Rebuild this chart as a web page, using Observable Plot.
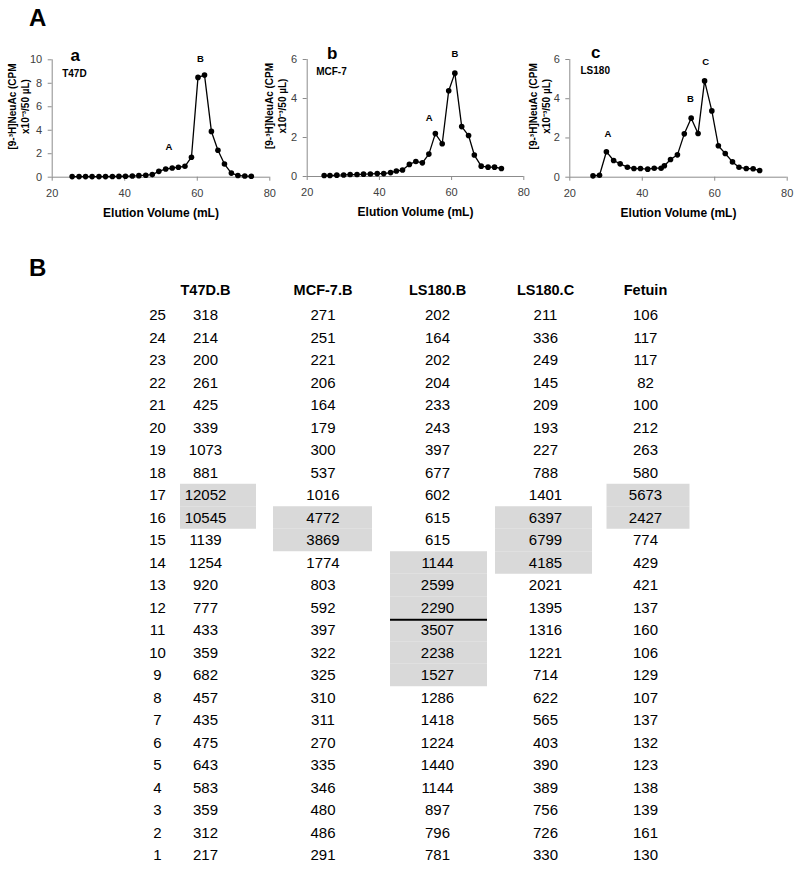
<!DOCTYPE html>
<html>
<head>
<meta charset="utf-8">
<script src="https://cdn.jsdelivr.net/npm/d3@7"></script>
<script src="https://cdn.jsdelivr.net/npm/@observablehq/plot@0.6"></script>
<style>
  body { margin: 0; background: #fff; }
  #root { position: relative; width: 800px; height: 871px; overflow: hidden; font-family: "Liberation Sans", Arial, sans-serif; }
  #root svg { position: absolute; overflow: visible; }
  .big { position: absolute; font-weight: bold; font-size: 24px; line-height: 24px; color: #000; }
</style>
</head>
<body>
<div id="root">
  <div class="big" style="left:29px;top:6px">A</div>
  <div class="big" style="left:29px;top:256px">B</div>
</div>
<script>
// ---------- Panel A data (elution volume in mL, CPM x10^-3 / 50 µL) ----------
const volT47D = [25.5,27.4,29.2,31.0,32.9,34.7,36.6,38.4,40.2,42.1,43.9,45.8,47.6,49.4,51.3,53.1,54.8,56.6,58.4,60.2,62.0,63.9,65.7,67.5,69.4,71.2,73.1,74.9];
const cpmT47D = [0.05,0.05,0.05,0.05,0.05,0.05,0.06,0.07,0.08,0.1,0.13,0.17,0.22,0.5,0.7,0.78,0.85,0.93,1.7,8.5,8.7,3.9,2.3,1.12,0.35,0.15,0.1,0.08];
const volMCF7 = [24.7,26.3,28.2,30.1,31.9,33.8,35.6,37.5,39.4,41.2,43.1,44.7,46.4,48.3,50.1,51.9,53.7,55.5,57.4,59.2,60.9,62.8,64.7,66.3,68.2,70.1,71.9,73.8];
const cpmMCF7 = [0.05,0.05,0.07,0.08,0.1,0.1,0.12,0.13,0.15,0.15,0.2,0.28,0.33,0.62,0.77,0.7,1.15,2.2,1.68,4.4,5.3,2.56,2.1,1.1,0.53,0.48,0.48,0.41];
const volLS180 = [26.4,28.2,30.1,32.1,33.9,35.9,37.7,39.5,41.5,43.3,45.2,46.1,47.8,49.7,51.6,53.5,55.4,57.2,59.2,61.0,62.9,64.9,66.7,68.7,70.6,72.4];
const cpmLS180 = [0.07,0.1,1.3,0.85,0.68,0.51,0.44,0.44,0.41,0.46,0.46,0.58,0.9,1.14,2.21,3.01,2.23,4.91,3.38,1.6,1.21,0.78,0.51,0.44,0.43,0.34];

const peakNamesT47D = ["A","B"];  const peakVolT47D = [52.2,60.9]; const peakCpmT47D = [2.6,10.1];
const peakNamesMCF7 = ["A","B"];  const peakVolMCF7 = [53.8,60.9]; const peakCpmMCF7 = [3.0,6.27];
const peakNamesLS180 = ["A","B","C"]; const peakVolLS180 = [30.5,53.3,57.5]; const peakCpmLS180 = [2.2,3.97,5.9];

const xTicks = [20,40,60,80];
const yTicksT47D = [0,2,4,6,8,10];
const yTicksSmall = [0,2,4,6];

// ---------- Panel B table data ----------
const fractions = [25,24,23,22,21,20,19,18,17,16,15,14,13,12,11,10,9,8,7,6,5,4,3,2,1];
const columns = ["T47D.B","MCF-7.B","LS180.B","LS180.C","Fetuin"];
const t47dB  = [318,214,200,261,425,339,1073,881,12052,10545,1139,1254,920,777,433,359,682,457,435,475,643,583,359,312,217];
const mcf7B  = [271,251,221,206,164,179,300,537,1016,4772,3869,1774,803,592,397,322,325,310,311,270,335,346,480,486,291];
const ls180B = [202,164,202,204,233,243,397,677,602,615,615,1144,2599,2290,3507,2238,1527,1286,1418,1224,1440,1144,897,796,781];
const ls180C = [211,336,249,145,209,193,227,788,1401,6397,6799,4185,2021,1395,1316,1221,714,622,565,403,390,389,756,726,330];
const fetuin = [106,117,117,82,100,212,263,580,5673,2427,774,429,421,137,160,106,129,107,137,132,123,138,139,161,130];
const shadedColumns = ["T47D.B","MCF-7.B","LS180.B","LS180.C","Fetuin"];
const shadedFrom = [17,16,14,16,17];
const shadedTo   = [16,15,9,14,16];
const dividerColumn = "LS180.B";
const dividerBelowFraction = 12;

const root = document.getElementById("root");
const FONT = '"Liberation Sans", Arial, sans-serif';

function panel(o) {
  const data = o.vol.map((v, i) => ({v, c: o.cpm[i]}));
  const peaks = o.peakNames.map((t, i) => ({t, v: o.peakVol[i], c: o.peakCpm[i]}));
  const chart = Plot.plot({
    width: o.width, height: 190,
    marginLeft: o.ml, marginRight: o.mr, marginTop: o.mt, marginBottom: o.mb,
    style: {background: "transparent", overflow: "visible", fontFamily: FONT, fontSize: "11px", color: "#404040"},
    x: {domain: [20, 80]},
    y: {domain: [0, o.yMax]},
    marks: [
      Plot.axisX({ticks: xTicks, tickFormat: d => String(d), tickSize: 4, tickPadding: 8, stroke: "#8c8c8c", label: null, fontSize: 11}),
      Plot.axisY({ticks: o.yTicks, tickFormat: d => String(d), tickSize: 4, tickPadding: 6, stroke: "#8c8c8c", label: null, fontSize: 11}),
      Plot.ruleY([0], {stroke: "#8c8c8c"}),
      Plot.ruleX([20], {stroke: "#8c8c8c"}),
      Plot.line(data, {x: "v", y: "c", stroke: "#000", strokeWidth: 1.3}),
      Plot.dot(data, {x: "v", y: "c", fill: "#000", r: 2.8}),
      Plot.text(peaks, {x: "v", y: "c", text: "t", fontWeight: "bold", fontSize: 9.5, fill: "#000"}),
      Plot.text([o.letter], {text: d => d, frameAnchor: "top-left", textAnchor: "middle", lineAnchor: "middle", dx: o.letterDx, dy: o.letterDy, fontWeight: "bold", fontSize: 17, fill: "#000"}),
      Plot.text([o.name], {text: d => d, frameAnchor: "top-left", textAnchor: "start", lineAnchor: "middle", dx: o.nameDx, dy: o.nameDy, fontWeight: "bold", fontSize: 10, fill: "#000"}),
      Plot.text(["[9-³H]NeuAc (CPM"], {text: d => d, frameAnchor: "left", textAnchor: "middle", lineAnchor: "middle", rotate: -90, dx: o.lab1, dy: -12, fontWeight: "bold", fontSize: 10, fill: "#000"}),
      Plot.text(["x10⁻³/50 µL)"], {text: d => d, frameAnchor: "left", textAnchor: "middle", lineAnchor: "middle", rotate: -90, dx: o.lab2, dy: -12, fontWeight: "bold", fontSize: 10, fill: "#000"}),
      Plot.text(["Elution Volume (mL)"], {text: d => d, frameAnchor: "bottom", lineAnchor: "middle", dy: 36, fontWeight: "bold", fontSize: 12, fill: "#000"})
    ]
  });
  chart.style.left = o.left + "px";
  chart.style.top = "40px";
  root.appendChild(chart);
}

panel({vol: volT47D, cpm: cpmT47D, yMax: 10, yTicks: yTicksT47D, peakNames: peakNamesT47D, peakVol: peakVolT47D, peakCpm: peakCpmT47D,
  left: 0, width: 280, ml: 51.7, mr: 10.7, mt: 19.3, mb: 53.3,
  letter: "a", letterDx: 23, letterDy: -4, name: "T47D", nameDx: 10, nameDy: 14, lab1: -39, lab2: -26});
panel({vol: volMCF7, cpm: cpmMCF7, yMax: 6, yTicks: yTicksSmall, peakNames: peakNamesMCF7, peakVol: peakVolMCF7, peakCpm: peakCpmMCF7,
  left: 265, width: 270, ml: 41.7, mr: 11.7, mt: 19, mb: 54,
  letter: "b", letterDx: 25, letterDy: -6, name: "MCF-7", nameDx: 9, nameDy: 12.5, lab1: -37, lab2: -24});
panel({vol: volLS180, cpm: cpmLS180, yMax: 6, yTicks: yTicksSmall, peakNames: peakNamesLS180, peakVol: peakVolLS180, peakCpm: peakCpmLS180,
  left: 530, width: 270, ml: 39.3, mr: 13.3, mt: 19, mb: 53.3,
  letter: "c", letterDx: 26, letterDy: -7, name: "LS180", nameDx: 10.7, nameDy: 11, lab1: -36, lab2: -23});

// ---------- table ----------
const valuesByColumn = [t47dB, mcf7B, ls180B, ls180C, fetuin];
const cells = fractions.flatMap((f, i) => columns.map((c, j) => ({col: c, f, v: valuesByColumn[j][i]})));
const step = 107.5;
const shadeWidth = {"T47D.B": 76, "MCF-7.B": 99, "LS180.B": 97, "LS180.C": 97, "Fetuin": 83};
const shadeShift = {"T47D.B": 0, "MCF-7.B": -3, "LS180.B": 5.5, "LS180.C": 3, "Fetuin": 0};
const textShift  = {"T47D.B": -13, "MCF-7.B": -3, "LS180.B": 4, "LS180.C": 4.5, "Fetuin": -3};
const shadeMarks = shadedColumns.map((c, k) => {
  const rows = fractions.filter(f => f <= shadedFrom[k] && f >= shadedTo[k]).map(f => ({col: c, f}));
  const inset = (step - shadeWidth[c]) / 2;
  return Plot.cell(rows, {x: "col", y: "f", fill: "#d9d9d9", insetLeft: inset + shadeShift[c], insetRight: inset - shadeShift[c]});
});
const divInset = (step - shadeWidth[dividerColumn]) / 2;
const divider = fractions.filter(f => f === dividerBelowFraction - 1).map(f => ({col: dividerColumn, f}));
const textMarks = columns.map(c => [
  Plot.text([c], {x: d => d, text: d => d, frameAnchor: "top", lineAnchor: "middle", dx: textShift[c], dy: -13.75, fontWeight: "bold", fontSize: 14.5, fill: "#000"}),
  Plot.text(cells.filter(d => d.col === c), {x: "col", y: "f", text: d => String(d.v), dx: textShift[c], fontSize: 15, fill: "#000"})
]).flat();

const table = Plot.plot({
  width: 800, height: 601,
  marginLeft: 164.25, marginRight: 98.25, marginTop: 33.75, marginBottom: 4.75,
  style: {background: "transparent", overflow: "visible", fontFamily: FONT, fontSize: "15px", color: "#000"},
  x: {type: "band", domain: columns, padding: 0, round: false, axis: null},
  y: {type: "band", domain: fractions, padding: 0, round: false, axis: null},
  marks: [
    ...shadeMarks,
    Plot.cell(divider, {x: "col", y: "f", fill: "#000", insetLeft: divInset + shadeShift[dividerColumn], insetRight: divInset - shadeShift[dividerColumn], insetBottom: 20.5}),
    ...textMarks,
    Plot.text(fractions, {x: () => columns[0], y: d => d, text: d => String(d), dx: -61, fontSize: 15, fill: "#000"})
  ]
});
table.style.left = "0px";
table.style.top = "270px";
root.appendChild(table);
</script>
</body>
</html>
